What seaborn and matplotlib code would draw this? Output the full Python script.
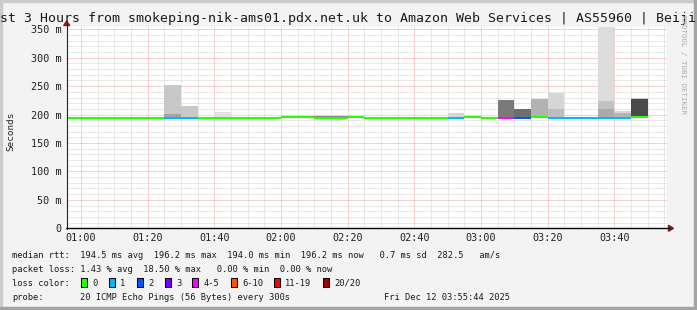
import numpy as np
import matplotlib
matplotlib.use("Agg")
import matplotlib.pyplot as plt
import seaborn as sns
from matplotlib.patches import Rectangle, Polygon
from matplotlib.lines import Line2D
from matplotlib.ticker import FixedLocator, MultipleLocator

# ---------------- data ----------------
title = ("Last 3 Hours from smokeping-nik-ams01.pdx.net.uk to Amazon Web Services"
         " | AS55960 | Beijing")

interval_start = ["00:55", "01:00", "01:05", "01:10", "01:15", "01:20", "01:25",
                  "01:30", "01:35", "01:40", "01:45", "01:50", "01:55", "02:00",
                  "02:05", "02:10", "02:15", "02:20", "02:25", "02:30", "02:35",
                  "02:40", "02:45", "02:50", "02:55", "03:00", "03:05", "03:10",
                  "03:15", "03:20", "03:25", "03:30", "03:35", "03:40", "03:45"]

median_ms = [194.6, 194.5, 194.4, 194.5, 194.4, 194.3, 194.2, 194.3, 194.5, 194.4,
             194.3, 194.4, 194.5, 196.0, 196.1, 194.6, 194.5, 195.0, 194.3, 194.2,
             194.1, 194.2, 194.0, 194.3, 195.8, 194.5, 194.0, 194.2, 195.5, 194.8,
             194.1, 194.1, 194.7, 194.2, 196.2]

loss_pings = [0, 0, 0, 0, 0, 0, 1, 1, 0, 0, 0, 0, 0, 0, 0, 0, 0, 0, 0, 0,
              0, 0, 0, 1, 0, 0, 4, 2, 0, 1, 1, 1, 1, 1, 0]

smoke_min = [193.6, 193.6, 193.5, 193.6, 193.5, 193.4, 193.3, 193.4, 193.6, 193.5,
             193.4, 193.5, 193.6, 195.0, 195.1, 193.6, 193.5, 194.0, 193.4, 193.3,
             193.2, 193.3, 193.1, 193.4, 194.8, 193.5, 193.1, 193.3, 194.5, 193.8,
             193.2, 193.2, 193.7, 193.3, 195.2]

smoke_max = [195.5, 195.4, 195.3, 195.4, 195.3, 195.2, 252.0, 215.0, 195.4, 204.0,
             195.2, 195.3, 195.4, 197.0, 197.1, 197.8, 197.8, 196.0, 196.0, 196.0,
             195.8, 196.0, 195.8, 203.0, 196.8, 195.4, 226.0, 209.0, 228.0, 238.5,
             195.0, 195.0, 360.0, 207.0, 230.0]

smoke_mid = [np.nan, np.nan, np.nan, np.nan, np.nan, np.nan, 201.0, np.nan, np.nan,
             np.nan, np.nan, np.nan, np.nan, np.nan, np.nan, np.nan, np.nan, np.nan,
             np.nan, np.nan, np.nan, np.nan, np.nan, np.nan, np.nan, np.nan, np.nan,
             np.nan, np.nan, 209.0, np.nan, np.nan, 224.0, 202.0, 227.0]

smoke_core = [np.nan] * 32 + [209.0, np.nan, np.nan]

# gray levels of the smoke bands (0 = black, 255 = white)
outer_gray = [208, 208, 208, 208, 208, 208, 200, 200, 208, 224, 208, 208, 208, 208,
              208, 138, 138, 208, 200, 200, 200, 200, 200, 214, 208, 208, 122, 110,
              178, 214, 208, 208, 220, 214, 196]
mid_gray = [0] * 6 + [164] + [0] * 22 + [189, 0, 0, 194, 180, 74]
core_gray = [0] * 32 + [170, 0, 0]

ytick_vals = [0, 50, 100, 150, 200, 250, 300, 350]
ytick_labels = ["0", "50 m", "100 m", "150 m", "200 m", "250 m", "300 m", "350 m"]
xtick_labels = ["01:00", "01:20", "01:40", "02:00", "02:20", "02:40", "03:00",
                "03:20", "03:40"]

legend_rtt = ("median rtt:  194.5 ms avg  196.2 ms max  194.0 ms min  "
              "196.2 ms now   0.7 ms sd  282.5   am/s")
legend_loss = "packet loss: 1.43 % avg  18.50 % max   0.00 % min  0.00 % now"
loss_labels = ["0", "1", "2", "3", "4-5", "6-10", "11-19", "20/20"]
loss_colors = ["#26ff00", "#00b8ff", "#0059ff", "#6f00ff", "#ff00ff", "#ff5500",
               "#ff0000", "#a10000"]
probe_text = "20 ICMP Echo Pings (56 Bytes) every 300s"
stamp_text = "Fri Dec 12 03:55:44 2025"

# ---------------- figure ----------------
W, H = 697, 310
sns.set_theme(style="white")
plt.rcParams["font.family"] = ["DejaVu Sans Mono", "DejaVu Sans"]

fig = plt.figure(figsize=(W / 100, H / 100), dpi=100, facecolor="#f3f3f3")


def fx(x):
    return x / W


def fy(y):
    return 1 - y / H


left_px, right_px, bottom_px, top_px = 66.7, 666.7, 228.3, 27.0
ax = fig.add_axes([fx(left_px), fy(bottom_px), (right_px - left_px) / W,
                   (bottom_px - top_px) / H])
ax.set_facecolor("white")


def tmin(s):
    h, m = s.split(":")
    return int(h) * 60 + int(m)


x0 = np.array([tmin(s) for s in interval_start], float)
t_end = 3 * 60 + 55 + 44 / 60
ax.set_xlim(t_end - 180, t_end)
ax.set_ylim(0, 354)

# grid
ax.xaxis.set_major_locator(FixedLocator([tmin(s) for s in xtick_labels]))
ax.xaxis.set_minor_locator(MultipleLocator(5))
ax.set_xticklabels(xtick_labels)
ax.yaxis.set_major_locator(FixedLocator(ytick_vals))
ax.yaxis.set_minor_locator(MultipleLocator(10))
ax.set_yticklabels(ytick_labels)
ax.set_axisbelow(True)
ax.grid(which="minor", color="#d2d2d2", linestyle=(0, (1, 1)), linewidth=0.72)
ax.grid(which="major", color="#f2a2a2", linestyle=(0, (1, 1)), linewidth=0.72)
ax.tick_params(axis="both", which="both", length=0, labelsize=7.3,
               labelcolor="#202020")
ax.tick_params(axis="y", pad=3.9)
ax.tick_params(axis="x", pad=3.4)
for lab in ax.get_xticklabels() + ax.get_yticklabels():
    lab.set_fontfamily("DejaVu Sans Mono")
for sp in ax.spines.values():
    sp.set_visible(False)

# smoke bands
lo = np.array(smoke_min)
layers = [(np.array(smoke_max), outer_gray, 2),
          (np.array(smoke_mid), mid_gray, 3),
          (np.array(smoke_core, float), core_gray, 4)]
for top, grays, z in layers:
    m = ~np.isnan(top)
    cols = [(g / 255, g / 255, g / 255) for g, ok in zip(grays, m) if ok]
    ax.bar(x0[m], top[m] - lo[m], bottom=lo[m], width=5, align="edge",
           color=cols, linewidth=0, zorder=z)


def loss_bucket(n):
    if n <= 3:
        return n
    if n <= 5:
        return 4
    if n <= 10:
        return 5
    if n <= 19:
        return 6
    return 7


line_cols = [loss_colors[loss_bucket(n)] for n in loss_pings]
ax.hlines(median_ms, x0, x0 + 5, colors=line_cols, linewidth=1.44, zorder=6)

# axes lines with arrows
axis_col = "#222222"
arrow_col = "#8e1b1b"
fig.add_artist(Line2D([fx(left_px), fx(left_px)], [fy(bottom_px + 0.5), fy(24)],
                      color=axis_col, linewidth=0.8, transform=fig.transFigure))
fig.add_artist(Line2D([fx(left_px - 1), fx(670)], [fy(bottom_px), fy(bottom_px)],
                      color="#000000", linewidth=1.0, transform=fig.transFigure))
fig.add_artist(Polygon([(fx(left_px - 3), fy(25.5)), (fx(left_px + 3), fy(25.5)),
                        (fx(left_px), fy(21))], closed=True, color=arrow_col,
                       transform=fig.transFigure))
fig.add_artist(Polygon([(fx(668.5), fy(bottom_px - 3)), (fx(668.5), fy(bottom_px + 3)),
                        (fx(673.5), fy(bottom_px))], closed=True, color=arrow_col,
                       transform=fig.transFigure))

# frame shading
fig.add_artist(Rectangle((0, fy(2)), 1, 2 / H, color="#cbcbcb",
                         transform=fig.transFigure, zorder=0))
fig.add_artist(Rectangle((0, 0), 2 / W, 1, color="#cbcbcb",
                         transform=fig.transFigure, zorder=0))
fig.add_artist(Rectangle((0, 0), 1, 3 / H, color="#a3a3a3",
                         transform=fig.transFigure, zorder=0))
fig.add_artist(Rectangle((1 - 3 / W, 0), 3 / W, 1, color="#a3a3a3",
                         transform=fig.transFigure, zorder=0))

# texts
fig.text(fx(348.5), fy(22.3), title, ha="center", va="baseline", fontsize=9.57,
         color="#1a1a1a", family="DejaVu Sans Mono")
fig.text(fx(10.8), fy(131), "Seconds", rotation=90, ha="center", va="center",
         fontsize=6.7, color="#202020", family="DejaVu Sans Mono")
fig.text(fx(683.5), fy(15), "RRDTOOL / TOBI OETIKER", rotation=-90, ha="center",
         va="top", fontsize=5.4, color="#acacac", family="DejaVu Sans Mono")

leg_kw = dict(fontsize=6.3, color="#1a1a1a", family="DejaVu Sans Mono",
              va="baseline", ha="left")
fig.text(fx(12.0), fy(257.8), legend_rtt, **leg_kw)
fig.text(fx(12.0), fy(271.8), legend_loss, **leg_kw)
fig.text(fx(12.0), fy(285.8), "loss color:", **leg_kw)
fig.text(fx(12.0), fy(299.7), "probe:", **leg_kw)
fig.text(fx(80.4), fy(299.7), probe_text, **leg_kw)
fig.text(fx(510.5), fy(299.7), stamp_text, **dict(leg_kw, ha="right"))

box_left = [81.0, 109.0, 136.7, 164.7, 192.3, 230.7, 274.0, 322.7]
for bx, lab, col in zip(box_left, loss_labels, loss_colors):
    fig.add_artist(Rectangle((fx(bx), fy(286.7)), 6.0 / W, 9.0 / H, facecolor=col,
                             edgecolor="#000000", linewidth=0.75,
                             transform=fig.transFigure))
    fig.text(fx(bx + 11.2), fy(285.8), lab, **leg_kw)

fig.savefig("out.png", dpi=100, facecolor=fig.get_facecolor())
